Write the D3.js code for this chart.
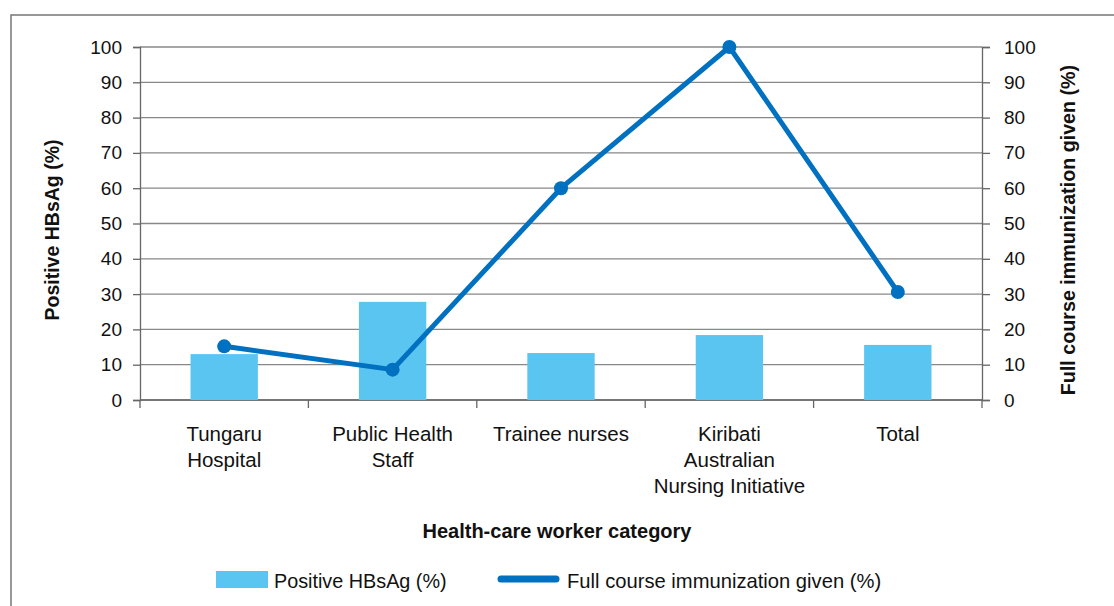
<!DOCTYPE html>
<html>
<head>
<meta charset="UTF-8">
<script src="https://d3js.org/d3.v7.min.js"></script>
<style>
  body { margin: 0; background: #fff; }
  text { font-family: "Liberation Sans", Arial, sans-serif; fill: #111; }
</style>
</head>
<body>
<svg width="1114" height="606"></svg>
<script>
// categories (multi-line labels) and the two series
var categories = [
  ["Tungaru", "Hospital"],
  ["Public Health", "Staff"],
  ["Trainee nurses"],
  ["Kiribati", "Australian", "Nursing Initiative"],
  ["Total"]
];
var positiveHBsAg = [13.0, 27.8, 13.3, 18.4, 15.6];
var fullCourse = [15.2, 8.6, 60, 100, 30.6];
var yTicks = [0, 10, 20, 30, 40, 50, 60, 70, 80, 90, 100];

var barColor = "#5bc5f2", lineColor = "#0070c0";

var svg = d3.select("svg");
var plotLeft = 140, plotRight = 982, plotTop = 47, plotBottom = 400;

// outer frame
svg.append("rect").attr("x", 11).attr("y", 15).attr("width", 1120).attr("height", 620)
  .attr("fill", "none").attr("stroke", "#777").attr("stroke-width", 1.5);

var x = d3.scaleBand().domain(d3.range(categories.length)).range([plotLeft, plotRight]).paddingInner(0);
var yL = d3.scaleLinear().domain([0, 100]).range([plotBottom, plotTop]);
var yR = d3.scaleLinear().domain([0, 100]).range([plotBottom, plotTop]);

// gridlines
svg.append("g").selectAll("line").data(yTicks).join("line")
  .attr("x1", plotLeft).attr("x2", plotRight)
  .attr("y1", d => yL(d)).attr("y2", d => yL(d))
  .attr("stroke", "#888").attr("stroke-width", 1.3);

// left and right axes
var gl = svg.append("g").attr("transform", "translate(" + plotLeft + ",0)")
  .call(d3.axisLeft(yL).tickValues(yTicks).tickSize(7).tickPadding(11));
var gr = svg.append("g").attr("transform", "translate(" + plotRight + ",0)")
  .call(d3.axisRight(yR).tickValues(yTicks).tickSize(8).tickPadding(14));
[gl, gr].forEach(function(g) {
  g.select(".domain").attr("stroke", "#666").attr("stroke-width", 1.3);
  g.selectAll(".tick line").attr("stroke", "#666").attr("stroke-width", 1.3);
  g.selectAll(".tick text").attr("font-size", 19).attr("fill", "#111")
    .attr("font-family", "Liberation Sans, Arial, sans-serif");
});

// x axis with ticks at band boundaries
var bounds = d3.range(categories.length + 1).map(i => i < categories.length ? x(i) : plotRight);
svg.append("line").attr("x1", plotLeft).attr("x2", plotRight).attr("y1", plotBottom).attr("y2", plotBottom)
  .attr("stroke", "#666").attr("stroke-width", 1.3);
svg.append("g").selectAll("line").data(bounds).join("line")
  .attr("x1", d => d).attr("x2", d => d).attr("y1", plotBottom).attr("y2", plotBottom + 8)
  .attr("stroke", "#666").attr("stroke-width", 1.3);

// bars
var bw = x.bandwidth() * 0.4;
svg.append("g").selectAll("rect").data(positiveHBsAg).join("rect")
  .attr("x", (d, i) => x(i) + x.bandwidth() / 2 - bw / 2)
  .attr("width", bw)
  .attr("y", d => yL(d))
  .attr("height", d => plotBottom - yL(d))
  .attr("fill", barColor);

// line + markers
var line = d3.line().x((d, i) => x(i) + x.bandwidth() / 2).y(d => yR(d));
svg.append("path").datum(fullCourse).attr("d", line)
  .attr("fill", "none").attr("stroke", lineColor).attr("stroke-width", 5)
  .attr("stroke-linejoin", "round");
svg.append("g").selectAll("circle").data(fullCourse).join("circle")
  .attr("cx", (d, i) => x(i) + x.bandwidth() / 2).attr("cy", d => yR(d))
  .attr("r", 7).attr("fill", lineColor);

// category labels
svg.append("g").selectAll("text").data(categories).join("text")
  .attr("x", (d, i) => x(i) + x.bandwidth() / 2)
  .attr("y", 441)
  .attr("text-anchor", "middle").attr("font-size", 20.5)
  .each(function(d) {
    d3.select(this).selectAll("tspan").data(d).join("tspan")
      .attr("x", d3.select(this).attr("x"))
      .attr("dy", (t, j) => j === 0 ? 0 : 26)
      .text(t => t);
  });

// axis titles
svg.append("text").attr("transform", "translate(59,230) rotate(-90)")
  .attr("text-anchor", "middle").attr("font-size", 19.5).attr("font-weight", "bold")
  .text("Positive HBsAg (%)");
svg.append("text").attr("transform", "translate(1075,230) rotate(-90)")
  .attr("text-anchor", "middle").attr("font-size", 19.7).attr("font-weight", "bold")
  .text("Full course immunization given (%)");
svg.append("text").attr("x", 557).attr("y", 538)
  .attr("text-anchor", "middle").attr("font-size", 20).attr("font-weight", "bold")
  .text("Health-care worker category");

// legend
svg.append("rect").attr("x", 216).attr("y", 571).attr("width", 52).attr("height", 17).attr("fill", barColor);
svg.append("text").attr("x", 274).attr("y", 588).attr("font-size", 19.8).text("Positive HBsAg (%)");
svg.append("line").attr("x1", 501).attr("x2", 556).attr("y1", 579).attr("y2", 579)
  .attr("stroke", lineColor).attr("stroke-width", 7).attr("stroke-linecap", "round");
svg.append("text").attr("x", 567).attr("y", 588).attr("font-size", 20.2).text("Full course immunization given (%)");
</script>
</body>
</html>
